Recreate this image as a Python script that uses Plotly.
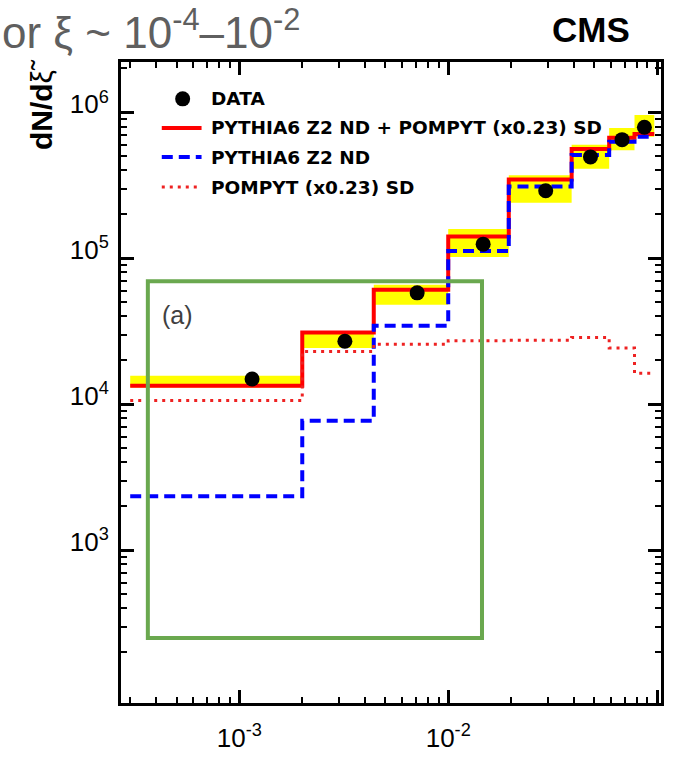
import plotly.graph_objects as go

# ---------------- data ----------------
bin_edges = [3.0e-4, 2.0e-3, 4.4e-3, 1.0e-2, 1.95e-2, 3.9e-2, 5.9e-2, 7.8e-2, 9.7e-2]
pythia_pompyt = [1.34e4, 3.1e4, 6.1e4, 1.41e5, 3.47e5, 5.6e5, 6.7e5, 7.1e5]
pythia_nd = [2.34e3, 7.7e3, 3.45e4, 1.12e5, 3.1e5, 5.1e5, 6.3e5, 6.8e5]
pompyt_sd = [1.06e4, 2.3e4, 2.58e4, 2.72e4, 2.75e4, 2.87e4, 2.43e4, 1.63e4]
band_low = [1.30e4, 2.43e4, 4.8e4, 1.02e5, 2.4e5, 4.1e5, 5.5e5, 6.8e5]
band_high = [1.57e4, 3.05e4, 6.6e4, 1.59e5, 3.7e5, 6.0e5, 7.8e5, 9.6e5]
data_x = [1.15e-3, 3.2e-3, 7.1e-3, 1.47e-2, 2.93e-2, 4.8e-2, 6.8e-2, 8.7e-2]
data_y = [1.49e4, 2.7e4, 5.8e4, 1.25e5, 2.9e5, 4.95e5, 6.5e5, 7.9e5]

x_tickvals = [1e-3, 1e-2, 1e-1]
x_ticktext = ["10<sup>-3</sup>", "10<sup>-2</sup>", "10<sup>-1</sup>"]
y_tickvals = [1e3, 1e4, 1e5, 1e6]
y_ticktext = ["10<sup>3</sup>", "10<sup>4</sup>", "10<sup>5</sup>", "10<sup>6</sup>"]
minor_digits = [2, 3, 4, 5, 6, 7, 8, 9]
x_decades = [1e-4, 1e-3, 1e-2, 1e-1]
y_decades = [1e1, 1e2, 1e3, 1e4, 1e5, 1e6]

legend_labels = ["DATA", "PYTHIA6 Z2 ND + POMPYT (x0.23) SD", "PYTHIA6 Z2 ND", "POMPYT (x0.23) SD"]

# ---------------- layout geometry ----------------
W, H = 673, 762
L, R, T, B = 121, 664, 62, 723
X_RANGE = [-3.567, -0.981]
Y_RANGE = [1.953, 6.345]


def px(xp):
    return (xp - L) / (R - L)


def py(yp):
    return (B - yp) / (B - T)


def steps(vals):
    return bin_edges, list(vals) + [vals[-1]]


fig = go.Figure()

# yellow uncertainty boxes
bx, by = [], []
for i in range(len(band_low)):
    x0, x1 = bin_edges[i], bin_edges[i + 1]
    bx += [x0, x1, x1, x0, x0, None]
    by += [band_low[i], band_low[i], band_high[i], band_high[i], band_low[i], None]
fig.add_trace(go.Scatter(x=bx, y=by, mode="lines", fill="toself",
                         fillcolor="#ffff00", line=dict(width=0), hoverinfo="skip"))

sx, sy = steps(pythia_pompyt)
fig.add_trace(go.Scatter(x=sx, y=sy, mode="lines", line=dict(color="#ff0000", width=4, shape="hv")))
sx, sy = steps(pythia_nd)
fig.add_trace(go.Scatter(x=sx, y=sy, mode="lines",
                         line=dict(color="#0000ff", width=4, shape="hv", dash="11px,6px")))
sx, sy = steps(pompyt_sd)
fig.add_trace(go.Scatter(x=sx, y=sy, mode="lines",
                         line=dict(color="#ee2222", width=3, shape="hv", dash="3px,5px")))
# data points drawn on the overlay axes (same ranges) so they sit on top
fig.add_trace(go.Scatter(x=data_x, y=data_y, mode="markers", xaxis="x2", yaxis="y2",
                         marker=dict(color="black", size=15, symbol="circle")))

fig.update_layout(
    width=W, height=H, showlegend=False,
    margin=dict(l=L, r=W - R, t=T, b=H - B),
    paper_bgcolor="white", plot_bgcolor="white",
    font=dict(family="Liberation Sans, Arial, sans-serif", color="black"),
)

tick_font = dict(size=26, color="black", family="Liberation Sans, Arial, sans-serif")
major = dict(type="log", showgrid=False, zeroline=False,
             showline=True, linecolor="black", linewidth=3, mirror="ticks",
             ticks="inside", ticklen=13, tickwidth=3, tickcolor="black", tickfont=tick_font)
minor_ax = dict(type="log", showticklabels=False, ticks="inside", ticklen=6, tickwidth=2,
                tickcolor="black", showline=True, linecolor="black", linewidth=3, mirror="ticks",
                showgrid=False, zeroline=False)
fig.update_layout(
    xaxis=dict(range=X_RANGE, tickvals=x_tickvals, ticktext=x_ticktext, ticklabelstandoff=10, **major),
    yaxis=dict(range=Y_RANGE, tickvals=y_tickvals, ticktext=y_ticktext,
               ticklabelshift=-8, ticklabelstandoff=4, **major),
    # overlay axes carrying the minor ticks
    xaxis2=dict(range=X_RANGE, overlaying="x", anchor="y2", side="bottom",
                tickvals=[d * m for d in x_decades for m in minor_digits], **minor_ax),
    yaxis2=dict(range=Y_RANGE, overlaying="y", anchor="x2", side="left",
                tickvals=[d * m for d in y_decades for m in minor_digits], **minor_ax),
)

# ---------------- legend drawn by hand ----------------
leg_font = dict(family="DejaVu Sans, sans-serif", size=18.5, color="black")
leg_y = [100, 130, 160, 191]
for lab, yy in zip(legend_labels, leg_y):
    fig.add_annotation(x=px(209), y=py(yy), xref="paper", yref="paper", text="<b>%s</b>" % lab,
                       showarrow=False, xanchor="left", yanchor="middle", font=leg_font)
fig.add_shape(type="circle", xref="paper", yref="paper", xsizemode="pixel", ysizemode="pixel",
              xanchor=px(183), yanchor=py(100), x0=-7.5, x1=7.5, y0=-7.5, y1=7.5,
              fillcolor="black", line=dict(width=0))
fig.add_shape(type="line", xref="paper", yref="paper", x0=px(162), x1=px(202), y0=py(130), y1=py(130),
              line=dict(color="#ff0000", width=4))
fig.add_shape(type="line", xref="paper", yref="paper", x0=px(162), x1=px(202), y0=py(160), y1=py(160),
              line=dict(color="#0000ff", width=4, dash="11px,6px"))
fig.add_shape(type="line", xref="paper", yref="paper", x0=px(162), x1=px(202), y0=py(191), y1=py(191),
              line=dict(color="#ee2222", width=3, dash="3px,5px"))

# ---------------- texts ----------------
fig.add_annotation(x=px(41), y=py(106), xref="paper", yref="paper",
                   text="<b>dN/d</b>ξ̃", textangle=-90, showarrow=False,
                   xanchor="center", yanchor="middle",
                   font=dict(family="Liberation Sans, Arial, sans-serif", size=30, color="black"))
fig.add_annotation(x=px(594), y=py(29), xref="paper", yref="paper", text="<b>CMS</b>",
                   showarrow=False, xanchor="center", yanchor="middle",
                   font=dict(family="Liberation Sans, Arial, sans-serif", size=35, color="black"))
fig.add_annotation(x=px(-1), y=py(28), xref="paper", yref="paper",
                   text="or ξ ~ 10<sup>-4</sup>–10<sup>-2</sup>",
                   showarrow=False, xanchor="left", yanchor="middle",
                   font=dict(family="Liberation Sans, Arial, sans-serif", size=44, color="#5f5f5f"))
fig.add_annotation(x=px(178), y=py(323), xref="paper", yref="paper", text="(a)",
                   showarrow=False, xanchor="center", yanchor="middle",
                   font=dict(family="Liberation Sans, Arial, sans-serif", size=25, color="#404040"))

# green highlight box
fig.add_shape(type="rect", xref="paper", yref="paper",
              x0=px(148), x1=px(484), y0=py(656), y1=py(288),
              line=dict(color="#6aa84f", width=4), fillcolor="rgba(0,0,0,0)")

fig.write_html("out.html")
